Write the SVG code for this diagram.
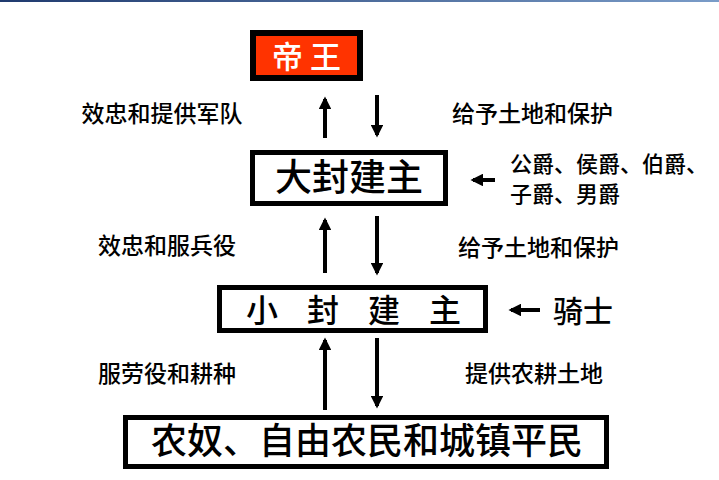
<svg xmlns="http://www.w3.org/2000/svg" width="719" height="480" viewBox="0 0 719 480">
<defs>
<style>
text{font-family:"Noto Sans CJK SC","Liberation Sans",sans-serif;fill:#000;font-weight:500}
.lab{font-size:23px}
.box{fill:#fff;stroke:#000;stroke-width:5}
.ar{stroke:#000;stroke-width:4;marker-end:url(#ah)}
</style>
<marker id="ah" viewBox="0 0 10 10" refX="8" refY="5" markerWidth="3.2" markerHeight="3.2" orient="auto"><path d="M0,0L10,5L0,10z" fill="#000"/></marker>
<linearGradient id="tg" x1="0" x2="1"><stop offset="0" stop-color="#1f3a6e"/><stop offset="1" stop-color="#7a9cc8"/></linearGradient>
</defs>
<rect width="719" height="480" fill="#fff"/>
<rect x="0" y="0" width="719" height="2" fill="url(#tg)"/>
<g id="emperor"><rect x="253" y="33" width="107" height="45" fill="#ff3300" stroke="#000" stroke-width="6"/><text x="306.5" y="68" font-size="31" style="fill:#fff" text-anchor="middle">帝 王</text></g>
<g id="lord"><rect class="box" x="252.5" y="152.5" width="193" height="51"/><text x="349" y="191" font-size="37" text-anchor="middle">大封建主</text></g>
<g id="vassal"><rect class="box" x="219.5" y="287.5" width="266" height="43"/><text x="246" y="322" font-size="32" letter-spacing="29">小封建主</text></g>
<g id="peasants"><rect class="box" x="125.5" y="417.5" width="481" height="49"/><text x="367" y="454" font-size="36" text-anchor="middle">农奴、自由农民和城镇平民</text></g>
<g id="connectors">
<line class="ar" x1="325" y1="138" x2="325" y2="99"/>
<line class="ar" x1="377" y1="95" x2="377" y2="135"/>
<line class="ar" x1="325" y1="273" x2="325" y2="220"/>
<line class="ar" x1="377" y1="216" x2="377" y2="273"/>
<line class="ar" x1="325" y1="410" x2="325" y2="340"/>
<line class="ar" x1="377" y1="338" x2="377" y2="406"/>
<line class="ar" x1="495" y1="180" x2="473" y2="180"/>
<line class="ar" x1="540" y1="310" x2="511" y2="310"/>
</g>
<g id="labels">
<text class="lab" x="162" y="122" text-anchor="middle">效忠和提供军队</text>
<text class="lab" x="452" y="122">给予土地和保护</text>
<text x="510" y="172" font-size="22">公爵、侯爵、伯爵、</text>
<text x="510" y="202" font-size="22">子爵、男爵</text>
<text class="lab" x="98" y="254">效忠和服兵役</text>
<text class="lab" x="458" y="256">给予土地和保护</text>
<text x="553" y="322" font-size="30">骑士</text>
<text class="lab" x="98" y="382">服劳役和耕种</text>
<text class="lab" x="465" y="382">提供农耕土地</text>
</g>
</svg>
